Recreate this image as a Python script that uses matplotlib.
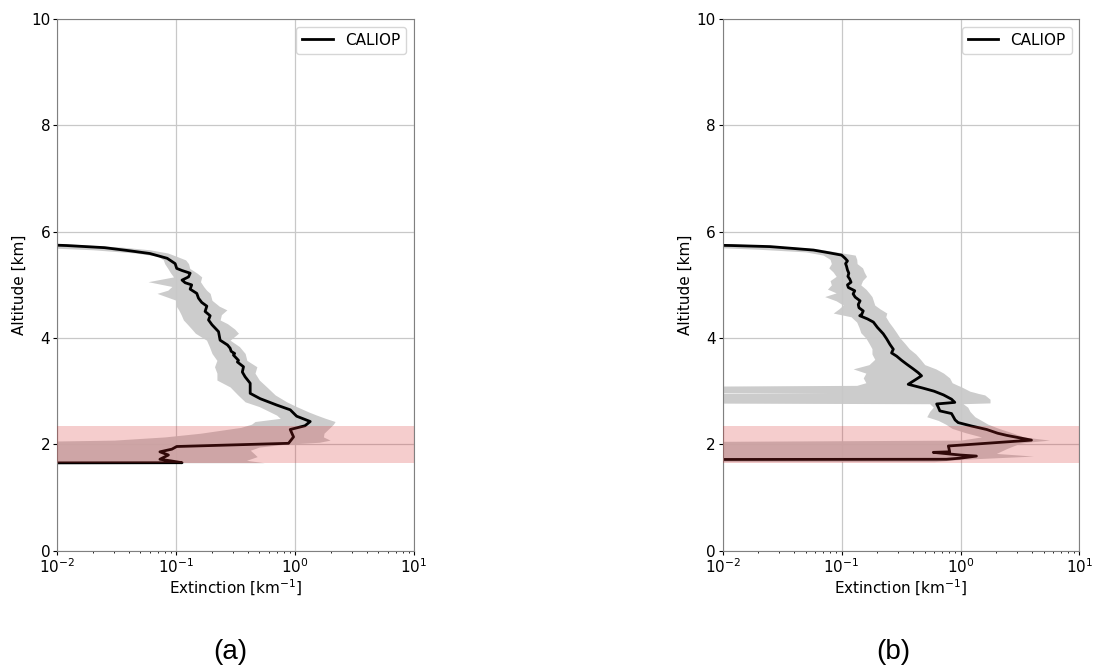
import matplotlib
matplotlib.use('Agg')
import matplotlib.pyplot as plt

# (a) mean extinction profile
alt_a = [5.77, 5.74, 5.70, 5.64, 5.59, 5.50, 5.40, 5.31, 5.27, 5.22,
         5.15, 5.09, 5.04, 5.00, 4.92, 4.84, 4.75, 4.67, 4.60, 4.50,
         4.42, 4.34, 4.25, 4.12, 3.96, 3.87, 3.81, 3.75, 3.71, 3.68,
         3.58, 3.55, 3.46, 3.36, 3.27, 3.15, 2.96, 2.86, 2.74, 2.65,
         2.53, 2.43, 2.35, 2.28, 2.14, 2.02, 1.96, 1.91, 1.86, 1.80,
         1.72, 1.69, 1.655, 1.65]
ext_a = [0.005, 0.012, 0.025, 0.041, 0.060, 0.084, 0.098, 0.101, 0.112, 0.131,
         0.127, 0.112, 0.119, 0.135, 0.131, 0.149, 0.154, 0.164, 0.181, 0.175,
         0.193, 0.187, 0.200, 0.227, 0.234, 0.270, 0.284, 0.290, 0.310, 0.303,
         0.334, 0.327, 0.368, 0.360, 0.380, 0.419, 0.419, 0.508, 0.700, 0.910,
         1.03, 1.34, 1.21, 0.91, 0.97, 0.88, 0.101, 0.092, 0.073, 0.086,
         0.073, 0.090, 0.112, 0.002]

# (a) spread
band_alt_a = [5.80, 5.76, 5.71, 5.66, 5.60, 5.54, 5.47, 5.40, 5.31, 5.22,
              5.15, 5.06, 4.97, 4.90, 4.84, 4.71, 4.60, 4.53, 4.44, 4.34,
              4.27, 4.17, 4.09, 3.96, 3.84, 3.71, 3.58, 3.46, 3.34, 3.21,
              3.08, 2.93, 2.80, 2.71, 2.61, 2.55, 2.49, 2.43, 2.38, 2.32,
              2.21, 2.14, 2.08, 2.04, 2.00, 1.95, 1.89, 1.83, 1.77, 1.70,
              1.655]
lo_a = [0.002, 0.003, 0.006, 0.020, 0.045, 0.070, 0.078, 0.080, 0.085, 0.090,
        0.095, 0.058, 0.092, 0.085, 0.069, 0.100, 0.100, 0.105, 0.110, 0.115,
        0.123, 0.135, 0.145, 0.180, 0.190, 0.200, 0.220, 0.210, 0.220, 0.220,
        0.284, 0.330, 0.380, 0.500, 0.617, 0.700, 0.750, 0.460, 0.430, 0.350,
        0.160, 0.080, 0.030, 0.002, 0.002, 0.002, 0.002, 0.002, 0.002, 0.002,
        0.002]
hi_a = [0.006, 0.015, 0.035, 0.060, 0.085, 0.100, 0.120, 0.127, 0.130, 0.150,
        0.164, 0.160, 0.170, 0.180, 0.193, 0.200, 0.230, 0.267, 0.240, 0.234,
        0.270, 0.310, 0.334, 0.284, 0.340, 0.380, 0.393, 0.477, 0.460, 0.500,
        0.578, 0.680, 0.850, 1.03, 1.30, 1.52, 1.80, 2.17, 2.10, 1.97,
        1.75, 1.73, 1.97, 1.60, 0.80, 0.50, 0.42, 0.45, 0.48, 0.39,
        0.55]

# (b) mean extinction profile
alt_b = [5.76, 5.74, 5.72, 5.655, 5.60, 5.56, 5.50, 5.45, 5.40, 5.35,
         5.28, 5.22, 5.16, 5.11, 5.05, 5.00, 4.95, 4.89, 4.83, 4.77,
         4.70, 4.63, 4.57, 4.51, 4.45, 4.42, 4.36, 4.30, 4.20, 4.08,
         3.98, 3.88, 3.79, 3.72, 3.66, 3.58, 3.51, 3.42, 3.35, 3.29,
         3.22, 3.13, 3.06, 3.00, 2.93, 2.85, 2.79, 2.76, 2.70, 2.63,
         2.58, 2.52, 2.46, 2.41, 2.345, 2.28, 2.21, 2.17, 2.08, 1.97,
         1.92, 1.86, 1.85, 1.80, 1.78, 1.74, 1.72, 1.715]
ext_b = [0.004, 0.012, 0.025, 0.058, 0.080, 0.100, 0.107, 0.112, 0.108, 0.110,
         0.112, 0.115, 0.113, 0.117, 0.120, 0.112, 0.114, 0.129, 0.125, 0.130,
         0.143, 0.138, 0.140, 0.152, 0.148, 0.142, 0.165, 0.185, 0.200, 0.224,
         0.240, 0.255, 0.272, 0.263, 0.290, 0.320, 0.352, 0.400, 0.440, 0.470,
         0.420, 0.363, 0.480, 0.600, 0.720, 0.840, 0.895, 0.630, 0.650, 0.670,
         0.840, 0.870, 0.900, 0.955, 1.24, 1.66, 2.05, 2.44, 3.95, 0.79,
         0.80, 0.81, 0.59, 0.99, 1.36, 0.99, 0.76, 0.002]

# (b) spread
band_alt_b = [5.79, 5.75, 5.71, 5.67, 5.62, 5.56, 5.48, 5.40, 5.32, 5.24,
              5.16, 5.08, 5.00, 4.92, 4.85, 4.78, 4.70, 4.62, 4.55, 4.47,
              4.40, 4.30, 4.20, 4.10, 4.00, 3.90, 3.80, 3.70, 3.60, 3.50,
              3.42, 3.34, 3.25, 3.16, 3.11, 3.09, 3.00, 2.98, 2.97, 2.96,
              2.93, 2.85, 2.78, 2.765, 2.70, 2.62, 2.52, 2.45, 2.38, 2.30,
              2.22, 2.14, 2.08, 2.05, 2.02, 1.92, 1.83, 1.78, 1.72, 1.675]
lo_b = [0.002, 0.004, 0.007, 0.020, 0.050, 0.070, 0.080, 0.082, 0.078, 0.085,
        0.090, 0.080, 0.082, 0.076, 0.090, 0.072, 0.090, 0.103, 0.095, 0.085,
        0.120, 0.134, 0.140, 0.145, 0.160, 0.170, 0.180, 0.180, 0.190, 0.170,
        0.125, 0.160, 0.152, 0.160, 0.134, 0.002, 0.002, 0.002, 0.080, 0.002,
        0.002, 0.002, 0.002, 0.550, 0.590, 0.550, 0.520, 0.650, 0.750, 0.850,
        1.10, 1.50, 1.00, 0.002, 0.002, 0.002, 0.002, 0.002, 0.002, 0.002]
hi_b = [0.008, 0.020, 0.040, 0.066, 0.090, 0.130, 0.134, 0.135, 0.150, 0.155,
        0.162, 0.150, 0.145, 0.160, 0.170, 0.180, 0.185, 0.190, 0.210, 0.240,
        0.235, 0.250, 0.270, 0.290, 0.310, 0.340, 0.370, 0.420, 0.460, 0.500,
        0.620, 0.720, 0.810, 0.850, 0.950, 1.00, 1.20, 1.30, 1.35, 1.40,
        1.60, 1.77, 1.77, 1.05, 1.15, 1.20, 1.32, 1.50, 1.70, 2.10,
        2.70, 3.40, 5.60, 4.00, 3.15, 2.44, 2.00, 4.10, 1.05, 0.60]

# highlighted layer [km]
layer_a = [1.65, 2.35]
layer_b = [1.65, 2.35]

fig = plt.figure(figsize=(10.93, 6.66), dpi=100)
ax1 = fig.add_axes([0.0524, 0.1731, 0.3264, 0.7983])
ax2 = fig.add_axes([0.6612, 0.1731, 0.3264, 0.7983])

panels = [(ax1, alt_a, ext_a, band_alt_a, lo_a, hi_a, layer_a),
          (ax2, alt_b, ext_b, band_alt_b, lo_b, hi_b, layer_b)]

for ax, alt, ext, balt, lo, hi, layer in panels:
    ax.fill_betweenx(balt, lo, hi, color='grey', alpha=0.4, linewidth=0)
    ax.plot(ext, alt, color='black', lw=2, label='CALIOP')
    # layer box drawn over the profile
    ax.axhspan(layer[0], layer[1], color='tab:red', alpha=0.23, lw=0, zorder=3)
    ax.set_xscale('log')
    ax.set_xlim(1e-2, 1e1)
    ax.set_ylim(0, 10)
    ax.set_yticks([0, 2, 4, 6, 8, 10])
    ax.grid(True, which='major', color='#c8c8c8', lw=0.9)
    ax.tick_params(labelsize=11, length=3, pad=2)
    ax.tick_params(which='minor', length=1.5)
    for s in ax.spines.values():
        s.set_color('#808080')
    ax.set_xlabel('Extinction [km$^{-1}$]', fontsize=11, labelpad=1)
    ax.set_ylabel('Altitude [km]', fontsize=11, labelpad=3)
    ax.legend(loc='upper right', fontsize=11)

fig.text(0.211, 0.011, '(a)', fontsize=20, family='Liberation Sans', ha='center')
fig.text(0.817, 0.011, '(b)', fontsize=20, family='Liberation Sans', ha='center')

fig.savefig('out.png', dpi=100)
